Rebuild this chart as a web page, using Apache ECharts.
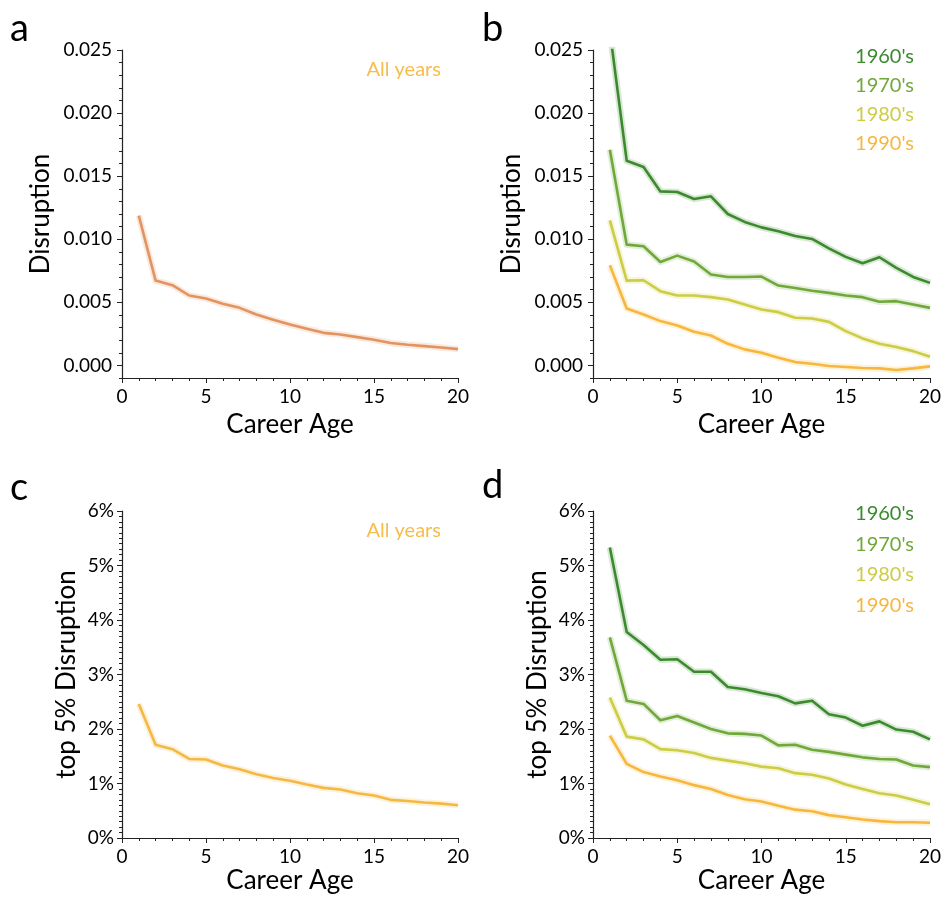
<!DOCTYPE html>
<html>
<head>
<meta charset="utf-8">
<script src="https://cdn.jsdelivr.net/npm/echarts@6/dist/echarts.min.js"></script>
<style>
  html, body {margin: 0; padding: 0; background: #fff;}
  #chart {width: 945px; height: 900px;}
</style>
</head>
<body>
<div id="chart"></div>
<script>
// career age 1..20
const careerAge = [1, 2, 3, 4, 5, 6, 7, 8, 9, 10, 11, 12, 13, 14, 15, 16, 17, 18, 19, 20];

// panel a: mean disruption, all years
const disrAll = [0.01187, 0.00672, 0.00636, 0.00554, 0.0053, 0.00488, 0.00456, 0.00403, 0.00361, 0.00324,
  0.0029, 0.00258, 0.00245, 0.00224, 0.00203, 0.00177, 0.00163, 0.00153, 0.00142, 0.00129];

// panel b: mean disruption by decade
const disr1960s = [0.0265, 0.01622, 0.01572, 0.01379, 0.01374, 0.01319, 0.0134, 0.012, 0.01137, 0.01094,
  0.01063, 0.01026, 0.01002, 0.00928, 0.0086, 0.0081, 0.00857, 0.00773, 0.00701, 0.00654];
const disr1970s = [0.01709, 0.00957, 0.00944, 0.0082, 0.0087, 0.00823, 0.0072, 0.00701, 0.00701, 0.00704,
  0.00633, 0.00614, 0.00591, 0.00575, 0.00554, 0.00541, 0.00504, 0.00509, 0.00483, 0.00456];
const disr1980s = [0.0115, 0.00672, 0.00675, 0.00588, 0.00554, 0.00554, 0.00541, 0.00522, 0.00483, 0.00443,
  0.00422, 0.00377, 0.00372, 0.00345, 0.00272, 0.00214, 0.00171, 0.00145, 0.00113, 0.00069];
const disr1990s = [0.00794, 0.00451, 0.00403, 0.00351, 0.00316, 0.00266, 0.00237, 0.00171, 0.00127, 0.001,
  0.00061, 0.00026, 0.00013, -0.00005, -0.00013, -0.00021, -0.00024, -0.00037, -0.00024, -0.00008];

// panel c: share in top 5% disruption (%), all years
const top5All = [2.46, 1.71, 1.63, 1.45, 1.44, 1.33, 1.26, 1.17, 1.10, 1.05,
  0.98, 0.92, 0.89, 0.82, 0.78, 0.70, 0.68, 0.65, 0.63, 0.60];

// panel d: share in top 5% disruption (%), by decade
const top5_1960s = [5.33, 3.78, 3.54, 3.27, 3.28, 3.05, 3.05, 2.77, 2.73, 2.66,
  2.60, 2.47, 2.52, 2.27, 2.21, 2.06, 2.14, 1.99, 1.95, 1.81];
const top5_1970s = [3.68, 2.52, 2.46, 2.16, 2.24, 2.12, 2.00, 1.92, 1.91, 1.88,
  1.70, 1.71, 1.62, 1.58, 1.53, 1.48, 1.45, 1.44, 1.33, 1.30];
const top5_1980s = [2.58, 1.86, 1.81, 1.63, 1.61, 1.56, 1.47, 1.42, 1.37, 1.31,
  1.28, 1.19, 1.16, 1.09, 0.98, 0.90, 0.82, 0.78, 0.70, 0.62];
const top5_1990s = [1.88, 1.36, 1.21, 1.13, 1.06, 0.97, 0.90, 0.79, 0.71, 0.67,
  0.59, 0.52, 0.49, 0.42, 0.38, 0.34, 0.31, 0.29, 0.29, 0.28];

const decades = ["1960's", "1970's", "1980's", "1990's"];
const disrTicks = [0, 0.005, 0.01, 0.015, 0.02, 0.025];

const colors = {
  all: '#e3935f',
  allTop5: '#f4b945',
  allText: '#f6bd4c',
  '1960': '#3c8a2e',
  '1970': '#70a83a',
  '1980': '#cccc45',
  '1990': '#f7b73e',
};
const decadeColors = [colors['1960'], colors['1970'], colors['1980'], colors['1990']];

const FONT = 'Lato, "DejaVu Sans", sans-serif';
const axisColor = '#222';

const grids = [
  {left: 122, right: 487, top: 50, bottom: 522},
  {left: 593, right: 15, top: 50, bottom: 522},
  {left: 122, right: 487, top: 511, bottom: 62},
  {left: 593, right: 15, top: 511, bottom: 62},
];

function xAxisFor(gi, gap) {
  return {
    type: 'value', gridIndex: gi, min: 0, max: 20, interval: 5,
    name: 'Career Age', nameLocation: 'middle', nameGap: gap,
    nameTextStyle: {fontFamily: FONT, fontSize: 26, color: '#000'},
    axisLine: {onZero: false, lineStyle: {color: axisColor, width: 1.2}},
    axisTick: {length: 5, lineStyle: {color: axisColor}},
    minorTick: {show: true, splitNumber: 5, length: 3, lineStyle: {color: axisColor}},
    axisLabel: {fontFamily: FONT, fontSize: 19, color: '#000', margin: 9},
    splitLine: {show: false},
  };
}

function disrAxis(gi) {
  return {
    type: 'value', gridIndex: gi, position: 'left', min: -0.001, max: 0.025,
    name: 'Disruption', nameLocation: 'middle', nameGap: 68,
    nameTextStyle: {fontFamily: FONT, fontSize: 26, color: '#000'},
    axisLine: {show: true, onZero: false, lineStyle: {color: axisColor, width: 1.2}},
    axisTick: {show: true, length: 5, customValues: disrTicks, lineStyle: {color: axisColor}},
    axisLabel: {fontFamily: FONT, fontSize: 19, color: '#000', margin: 10,
      customValues: disrTicks, formatter: v => v.toFixed(3)},
    splitLine: {show: false},
  };
}

function disrMinorAxis(gi) {
  return {
    type: 'value', gridIndex: gi, position: 'left', offset: 0, min: -0.001, max: 0.025, interval: 0.001,
    axisLine: {show: false, onZero: false},
    axisTick: {show: true, length: 3, lineStyle: {color: axisColor}},
    axisLabel: {show: false},
    splitLine: {show: false},
  };
}

function top5Axis(gi) {
  return {
    type: 'value', gridIndex: gi, position: 'left', min: 0, max: 6, interval: 1,
    name: 'top 5% Disruption', nameLocation: 'middle', nameGap: 42,
    nameTextStyle: {fontFamily: FONT, fontSize: 26, color: '#000'},
    axisLine: {show: true, onZero: false, lineStyle: {color: axisColor, width: 1.2}},
    axisTick: {show: true, length: 5, lineStyle: {color: axisColor}},
    minorTick: {show: true, splitNumber: 10, length: 3, lineStyle: {color: axisColor}},
    axisLabel: {fontFamily: FONT, fontSize: 19, color: '#000', margin: 8, formatter: '{value}%'},
    splitLine: {show: false},
  };
}

function pairs(values) {
  return careerAge.map((a, i) => [a, values[i]]);
}

// band (translucent, wide) + mean line
function curve(gi, yi, values, color) {
  return [
    {
      type: 'line', xAxisIndex: gi, yAxisIndex: yi, data: pairs(values),
      symbol: 'none', silent: true, z: 2,
      lineStyle: {color: color, width: 6.5, opacity: 0.2, join: 'round'},
    },
    {
      type: 'line', xAxisIndex: gi, yAxisIndex: yi, data: pairs(values),
      symbol: 'none', z: 3,
      lineStyle: {color: color, width: 2.6, join: 'round'},
    },
  ];
}

const series = [
  ...curve(0, 0, disrAll, colors.all),
  ...curve(1, 2, disr1960s, decadeColors[0]),
  ...curve(1, 2, disr1970s, decadeColors[1]),
  ...curve(1, 2, disr1980s, decadeColors[2]),
  ...curve(1, 2, disr1990s, decadeColors[3]),
  ...curve(2, 4, top5All, colors.allTop5),
  ...curve(3, 5, top5_1960s, decadeColors[0]),
  ...curve(3, 5, top5_1970s, decadeColors[1]),
  ...curve(3, 5, top5_1980s, decadeColors[2]),
  ...curve(3, 5, top5_1990s, decadeColors[3]),
];

function label(text, x, y, size, color, align) {
  return {
    type: 'text', x: x, y: y,
    style: {text: text, fontFamily: FONT, fontSize: size, fill: color,
      align: align || 'left', verticalAlign: 'middle'},
  };
}

const graphics = [
  label('a', 10, 29, 38, '#000'),
  label('b', 482, 29, 38, '#000'),
  label('c', 10, 488, 38, '#000'),
  label('d', 482, 486, 38, '#000'),
  label('All years', 441, 70, 20, colors.allText, 'right'),
  label('All years', 441, 531, 20, colors.allText, 'right'),
];
decades.forEach((d, i) => {
  graphics.push(label(d, 914, 57 + i * 29, 20, decadeColors[i], 'right'));
  graphics.push(label(d, 914, 514 + i * 30.5, 20, decadeColors[i], 'right'));
});

const chart = echarts.init(document.getElementById('chart'), null, {renderer: 'canvas'});
chart.setOption({
  animation: false,
  backgroundColor: '#fff',
  grid: grids,
  xAxis: [xAxisFor(0, 34), xAxisFor(1, 34), xAxisFor(2, 30), xAxisFor(3, 30)],
  yAxis: [disrAxis(0), disrMinorAxis(0), disrAxis(1), disrMinorAxis(1), top5Axis(2), top5Axis(3)],
  series: series,
  graphic: graphics,
});
</script>
</body>
</html>
